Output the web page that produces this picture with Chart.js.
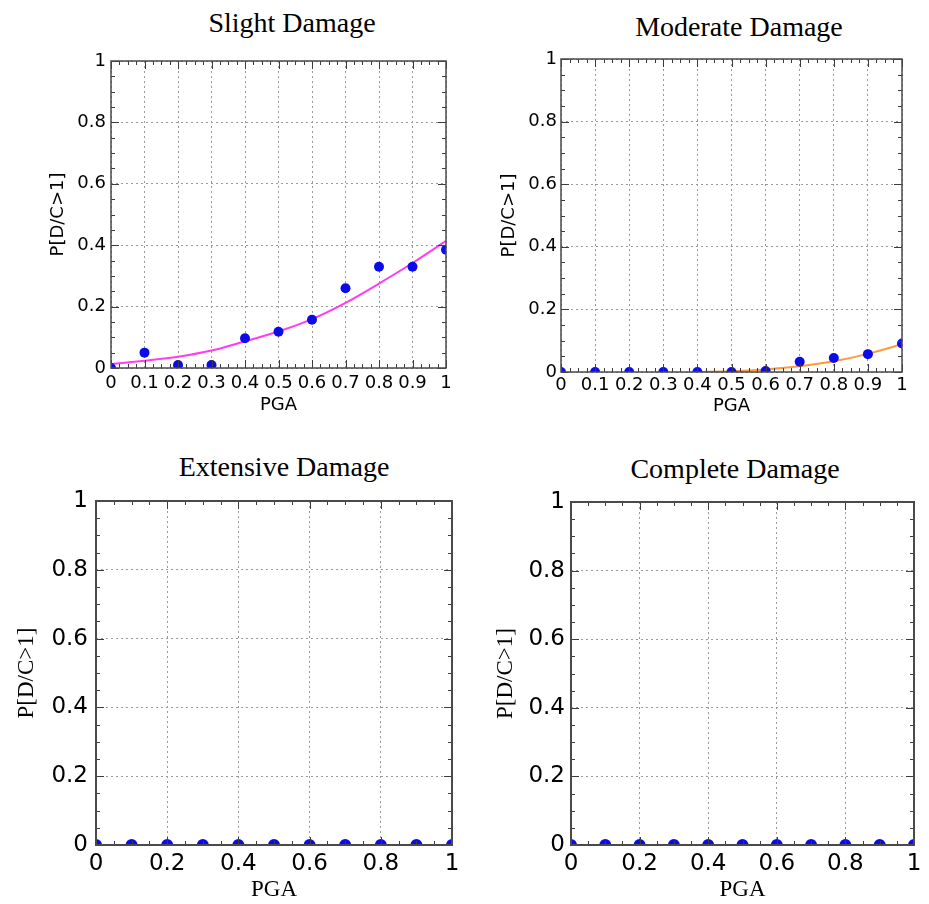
<!DOCTYPE html>
<html>
<head>
<meta charset="utf-8">
<title>Fragility curves</title>
<script src="https://cdn.jsdelivr.net/npm/chart.js@4.4.0/dist/chart.umd.min.js"></script>
<style>
  body { margin: 0; background: #fff; }
  #wrap { position: relative; width: 929px; height: 904px; overflow: hidden; }
  canvas { position: absolute; }
  .ttl {
    position: absolute; width: 400px; text-align: center; white-space: nowrap;
    font: 28px/28px "Liberation Serif", "Times New Roman", serif; color: #000;
  }
</style>
</head>
<body>
<div id="wrap">
  <div class="ttl" style="left:92px;top:9px">Slight Damage</div>
  <div class="ttl" style="left:539px;top:13px">Moderate Damage</div>
  <div class="ttl" style="left:84px;top:453px">Extensive Damage</div>
  <div class="ttl" style="left:535px;top:455px">Complete Damage</div>
  <canvas id="slight" width="465" height="420" style="left:0;top:0"></canvas>
  <canvas id="moderate" width="459" height="420" style="left:470px;top:0"></canvas>
  <canvas id="extensive" width="465" height="464" style="left:0;top:440px"></canvas>
  <canvas id="complete" width="459" height="464" style="left:470px;top:440px"></canvas>
</div>
<script>
// values
const pga = [0, 0.1, 0.2, 0.3, 0.4, 0.5, 0.6, 0.7, 0.8, 0.9, 1];

const slightObs = [0, 0.05, 0.01, 0.01, 0.097, 0.118, 0.157, 0.26, 0.33, 0.33, 0.385];
const slightFit = [0.013, 0.024, 0.037, 0.057, 0.087, 0.119, 0.159, 0.212, 0.275, 0.342, 0.414];

const moderateObs = [0, 0, 0, 0, 0, 0, 0.003, 0.033, 0.045, 0.057, 0.091];
const moderateFitPga = [0.4, 0.5, 0.6, 0.7, 0.8, 0.9, 1];
const moderateFit = [0, 0.002, 0.008, 0.018, 0.034, 0.058, 0.089];

const extensiveObs = [0, 0, 0, 0, 0, 0, 0, 0, 0, 0, 0];
const completeObs = [0, 0, 0, 0, 0, 0, 0, 0, 0, 0, 0];

// tick labels
const xTicksFine = [0, 0.1, 0.2, 0.3, 0.4, 0.5, 0.6, 0.7, 0.8, 0.9, 1];
const xTicksCoarse = [0, 0.2, 0.4, 0.6, 0.8, 1];
const yTicks = [0, 0.2, 0.4, 0.6, 0.8, 1];

const axisTitle = 'P[D/C>1]';
const xTitle = 'PGA';

function steps(step) {
    const out = [];
    const n = Math.round(1 / step);
    for (let k = 0; k <= n; k++) out.push(+(k * step).toFixed(4));
    return out;
}

function pairs(xs, ys) {
    return xs.map((x, i) => ({ x, y: ys[i] }));
}

// frame + inward tick marks on all four sides (matlab style)
const frameTicks = {
    id: 'frameTicks',
    afterDatasetsDraw(chart, args, opts) {
        const { ctx, chartArea: a, scales: { x, y } } = chart;
        ctx.save();
        ctx.strokeStyle = '#3c3c3c';
        ctx.lineWidth = 1;
        ctx.beginPath();
        const tick = (vals, len, horiz) => {
            vals.forEach(v => {
                if (horiz) {
                    const px = Math.round(x.getPixelForValue(v)) + 0.5;
                    ctx.moveTo(px, a.bottom); ctx.lineTo(px, a.bottom - len);
                    ctx.moveTo(px, a.top); ctx.lineTo(px, a.top + len);
                } else {
                    const py = Math.round(y.getPixelForValue(v)) + 0.5;
                    ctx.moveTo(a.left, py); ctx.lineTo(a.left + len, py);
                    ctx.moveTo(a.right, py); ctx.lineTo(a.right - len, py);
                }
            });
        };
        tick(opts.xMinor, 4, true);
        tick(opts.xMajor, 8, true);
        tick(opts.yMinor, 4, false);
        tick(opts.yMajor, 8, false);
        ctx.stroke();
        ctx.lineWidth = opts.frameWidth;
        ctx.strokeStyle = '#4a4a4a';
        ctx.strokeRect(a.left, a.top, a.right - a.left, a.bottom - a.top);
        ctx.restore();
    }
};

function makeChart(id, p) {
    const datasets = [{
        data: pairs(pga, p.obs),
        showLine: false,
        pointRadius: p.dot,
        pointBackgroundColor: '#0b0be8',
        pointBorderWidth: 0,
        clip: 0
    }];
    if (p.fit) {
        datasets.push({
            data: pairs(p.fitX, p.fit),
            showLine: true,
            pointRadius: 0,
            borderColor: p.fitColor,
            borderWidth: 2,
            cubicInterpolationMode: 'monotone',
            clip: 0
        });
    }
    const tickFont = { family: 'DejaVu Sans', size: p.tickSize };
    const titleFont = { family: p.titleFamily, size: p.titleSize };
    const grid = { color: '#9a9a9a', lineWidth: 1, drawTicks: false };
    return new Chart(document.getElementById(id), {
        type: 'scatter',
        data: { datasets },
        options: {
            responsive: false,
            animation: false,
            events: [],
            layout: { padding: { left: 0, top: p.top, right: p.right, bottom: 0 } },
            plugins: {
                legend: { display: false },
                tooltip: { enabled: false },
                frameTicks: {
                    xMajor: p.xTicks, xMinor: steps(p.xMinorStep),
                    yMajor: yTicks, yMinor: steps(0.05),
                    frameWidth: p.frameWidth
                }
            },
            scales: {
                x: {
                    type: 'linear', min: 0, max: 1,
                    afterBuildTicks: s => { s.ticks = p.xTicks.map(v => ({ value: v })); },
                    afterFit: s => { s.height = p.xHeight; },
                    grid,
                    border: { display: false, dash: [2, 3] },
                    ticks: { color: '#000', font: tickFont, padding: p.xPad, maxRotation: 0, autoSkip: false,
                             callback: v => String(v) },
                    title: { display: true, text: xTitle, color: '#000', font: titleFont,
                             padding: { top: 0, bottom: p.xTitlePad } }
                },
                y: {
                    type: 'linear', min: 0, max: 1,
                    afterBuildTicks: s => { s.ticks = yTicks.map(v => ({ value: v })); },
                    afterFit: s => { s.width = p.yWidth; },
                    grid,
                    border: { display: false, dash: [2, 3] },
                    ticks: { color: '#000', font: tickFont, padding: p.yPad, callback: v => String(v) },
                    title: { display: true, text: axisTitle, color: '#000', font: titleFont,
                             padding: { top: p.yTitlePad, bottom: 0 } }
                }
            }
        },
        plugins: [frameTicks]
    });
}

makeChart('slight', {
    obs: slightObs, fit: slightFit, fitX: pga, fitColor: '#ff3cf0', dot: 5,
    xTicks: xTicksFine, xMinorStep: 0.025, tickSize: 18,
    titleFamily: 'DejaVu Sans', titleSize: 18, frameWidth: 1.5,
    top: 61, right: 19, yWidth: 111, xHeight: 52,
    yPad: 5, yTitlePad: 48, xPad: 5, xTitlePad: 4
});

makeChart('moderate', {
    obs: moderateObs, fit: moderateFit, fitX: moderateFitPga, fitColor: '#ff9a3c', dot: 5,
    xTicks: xTicksFine, xMinorStep: 0.025, tickSize: 18,
    titleFamily: 'DejaVu Sans', titleSize: 18, frameWidth: 1.5,
    top: 59, right: 27, yWidth: 91, xHeight: 48,
    yPad: 4, yTitlePad: 29, xPad: 3, xTitlePad: 3
});

makeChart('extensive', {
    obs: extensiveObs, dot: 6,
    xTicks: xTicksCoarse, xMinorStep: 0.05, tickSize: 23,
    titleFamily: 'Liberation Serif', titleSize: 23, frameWidth: 2,
    top: 61, right: 13, yWidth: 96, xHeight: 59,
    yPad: 8, yTitlePad: 13, xPad: 5, xTitlePad: 0
});

makeChart('complete', {
    obs: completeObs, dot: 6,
    xTicks: xTicksCoarse, xMinorStep: 0.05, tickSize: 23,
    titleFamily: 'Liberation Serif', titleSize: 23, frameWidth: 2,
    top: 62, right: 15, yWidth: 101, xHeight: 59,
    yPad: 6, yTitlePad: 22, xPad: 5, xTitlePad: 0
});
</script>
</body>
</html>
